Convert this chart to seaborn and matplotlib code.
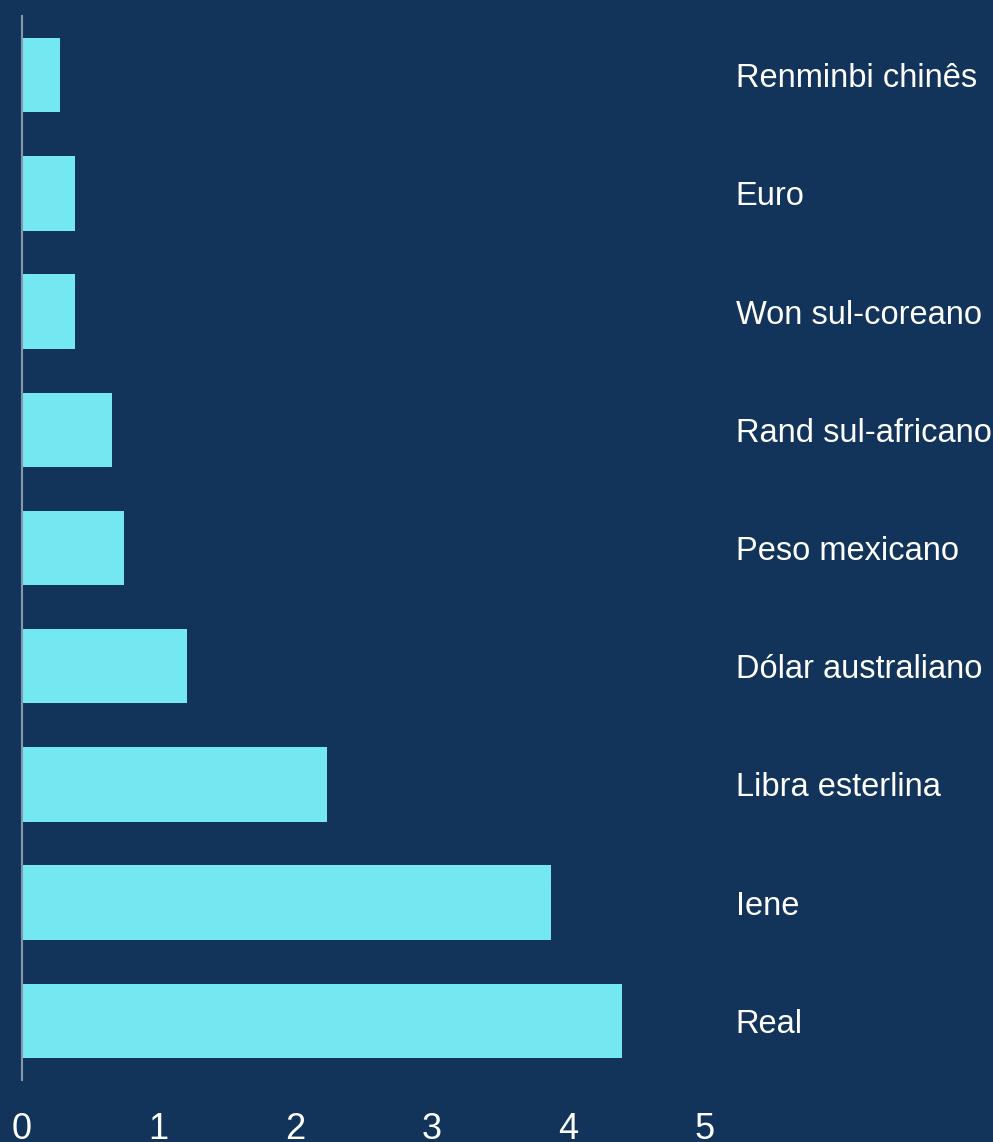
import matplotlib
matplotlib.use("Agg")
import matplotlib.pyplot as plt
import seaborn as sns
import pandas as pd

categories = ["Renminbi chinês", "Euro", "Won sul-coreano", "Rand sul-africano",
              "Peso mexicano", "Dólar australiano", "Libra esterlina", "Iene", "Real"]
values = [0.28, 0.39, 0.39, 0.66, 0.75, 1.21, 2.23, 3.87, 4.39]
xticks = [0, 1, 2, 3, 4, 5]

BG = "#12335a"
BAR = "#74e8f0"

sns.set_theme(style="white")
plt.rcParams['font.family'] = ['Liberation Sans', 'DejaVu Sans']

df = pd.DataFrame({"cat": categories, "val": values})

fig = plt.figure(figsize=(9.93, 11.42), dpi=100, facecolor=BG)
ax = fig.add_axes([22/993, 1 - 1080/1142, (705-22)/993, (1080-16)/1142])
ax.set_facecolor(BG)

sns.barplot(data=df, x="val", y="cat", orient="h", color=BAR, width=0.63,
            saturation=1, ax=ax, order=categories, linewidth=0)

ax.set_xlim(0, 5)
ax.set_ylim(8.5, -0.5)
ax.set_xticks(xticks)
ax.set_xticklabels([str(t) for t in xticks])
ax.set_xlabel("")
ax.set_ylabel("")

for s in ["top", "right", "bottom"]:
    ax.spines[s].set_visible(False)
ax.spines["left"].set_color("#8797ad")
ax.spines["left"].set_linewidth(1.5)

ax.yaxis.tick_right()
ax.tick_params(axis="y", length=0, pad=22, labelsize=23.5, labelcolor="white")
ax.tick_params(axis="x", length=0, pad=23, labelsize=26, labelcolor="white")
ax.grid(False)

fig.savefig("out.png", dpi=100, facecolor=BG)
